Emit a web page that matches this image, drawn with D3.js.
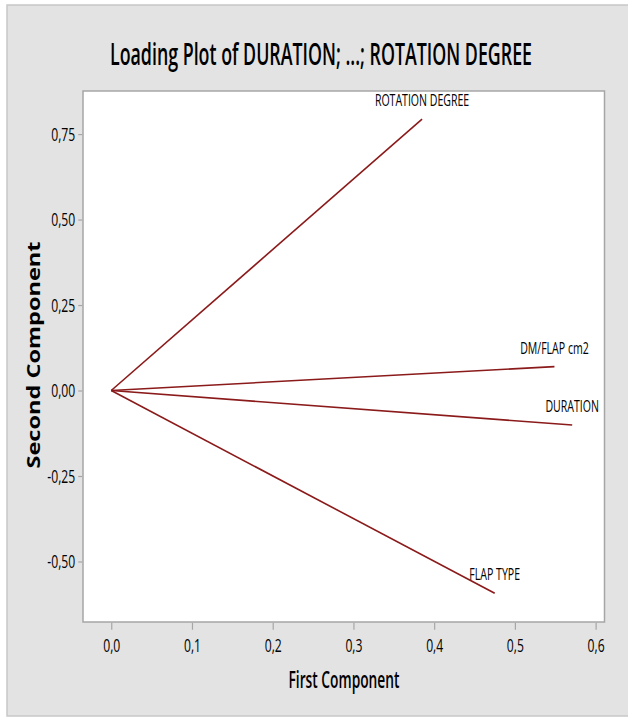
<!DOCTYPE html>
<html lang="en">
<head>
<meta charset="UTF-8" />
<script src="https://d3js.org/d3.v7.min.js"></script>
<title>Loading Plot</title>
<style>
  body { margin: 0; background: #fff; }
  text { font-family: "Open Sans", "Noto Sans", sans-serif; fill: #000; }
</style>
</head>
<body>
<script>
// loadings
var variables = ["ROTATION DEGREE", "DM/FLAP cm2", "DURATION", "FLAP TYPE"];
var first = [0.385, 0.549, 0.571, 0.475];
var second = [0.794, 0.070, -0.101, -0.593];
var xTicks = [0, 0.1, 0.2, 0.3, 0.4, 0.5, 0.6];
var yTicks = [-0.5, -0.25, 0, 0.25, 0.5, 0.75];

var W = 628, H = 717;
var plotL = 83, plotR = 604.5, plotT = 91, plotB = 622;
var squeezeK = 0.64;

var svg = d3.select("body").append("svg").attr("width", W).attr("height", H);

svg.append("rect").attr("x", 7).attr("y", 5).attr("width", 640).attr("height", 711)
  .attr("fill", "#e3e3e3").attr("stroke", "#c8c8c8").attr("stroke-width", 1.5);

var x = d3.scaleLinear().domain([-0.035, 0.611]).range([plotL, plotR]);
var y = d3.scaleLinear().domain([-0.677, 0.876]).range([plotB, plotT]);

function comma(f) { return function(d) { return d3.format(f)(d).replace(".", ",").replace("\u2212", "-"); }; }
function squeeze(sel, k) {
  sel.each(function() {
    var w = this.getComputedTextLength();
    d3.select(this).attr("textLength", w * k).attr("lengthAdjust", "spacingAndGlyphs");
  });
}

svg.append("rect").attr("x", plotL).attr("y", plotT).attr("width", plotR - plotL).attr("height", plotB - plotT)
  .attr("fill", "#fff").attr("stroke", "#a6a6a6").attr("stroke-width", 1.5);

// axes
var gx = svg.append("g").attr("transform", "translate(0," + (plotB + 0.75) + ")")
  .call(d3.axisBottom(x).tickValues(xTicks).tickFormat(comma(".1f")).tickSize(7).tickPadding(9));
var gy = svg.append("g").attr("transform", "translate(" + (plotL - 0.75) + ",0)")
  .call(d3.axisLeft(y).tickValues(yTicks).tickFormat(comma(".2f")).tickSize(4).tickPadding(3));
[gx, gy].forEach(function(g) {
  g.select(".domain").remove();
  g.selectAll(".tick line").attr("stroke", "#a6a6a6").attr("stroke-width", 1.2);
  g.selectAll(".tick text").attr("font-size", 19).attr("font-family", "Open Sans").attr("fill", "#000");
  squeeze(g.selectAll(".tick text"), squeezeK);
});

// loading lines
var idx = d3.range(variables.length);
svg.append("g").selectAll("line").data(idx).join("line")
  .attr("x1", x(0)).attr("y1", y(0))
  .attr("x2", function(i) { return x(first[i]); })
  .attr("y2", function(i) { return y(second[i]); })
  .attr("stroke", "#8b1a1a").attr("stroke-width", 1.6);

var labels = svg.append("g").selectAll("text").data(idx).join("text")
  .attr("x", function(i) { return x(first[i]); })
  .attr("y", function(i) { return y(second[i]) - 13; })
  .attr("text-anchor", "middle").attr("font-size", 16.5)
  .text(function(i) { return variables[i]; });
squeeze(labels, squeezeK);

// titles
svg.append("text").attr("x", 321).attr("y", 65).attr("text-anchor", "middle")
  .attr("font-size", 30).attr("font-weight", 600).attr("textLength", 422).attr("lengthAdjust", "spacingAndGlyphs")
  .text("Loading Plot of DURATION; ...; ROTATION DEGREE");

svg.append("text").attr("x", 344).attr("y", 688).attr("text-anchor", "middle")
  .attr("font-size", 23).attr("font-weight", 600).attr("textLength", 111).attr("lengthAdjust", "spacingAndGlyphs")
  .text("First Component");

svg.append("text").attr("transform", "translate(40,355) rotate(-90)").attr("text-anchor", "middle")
  .attr("font-size", 17).attr("font-weight", "bold").attr("font-family", "DejaVu Sans")
  .attr("textLength", 227).attr("lengthAdjust", "spacingAndGlyphs")
  .text("Second Component");
</script>
</body>
</html>
